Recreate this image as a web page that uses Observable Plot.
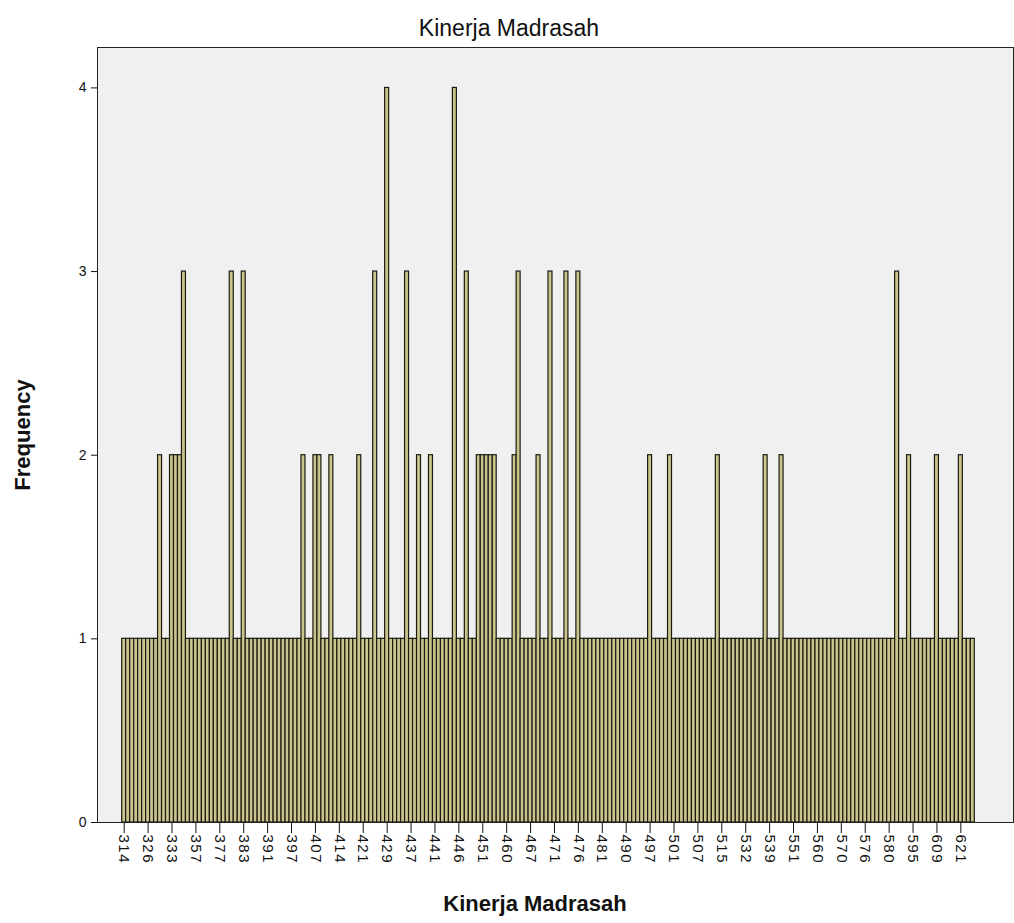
<!DOCTYPE html>
<html>
<head>
<meta charset="utf-8">
<script src="https://cdn.jsdelivr.net/npm/d3@7"></script>
<script src="https://cdn.jsdelivr.net/npm/@observablehq/plot@0.6"></script>
<style>
  html, body { margin: 0; padding: 0; background: #ffffff; }
  #chart svg { display: block; }
</style>
</head>
<body>
<div id="chart"></div>
<script>
const chartTitle = "Kinerja Madrasah";
const xLabel = "Kinerja Madrasah";
const yLabel = "Frequency";

// Tick labels shown under every 6th bar (bar index 0, 6, 12, ... 210)
const tickLabels = ["314","326","333","357","377","383","391","397","407","414","421","429",
  "437","441","446","451","460","467","471","476","481","490","497","501","507","515",
  "532","539","551","560","570","576","580","595","609","621"];
const tickStep = 6;

// Frequency of each distinct score, left to right (214 bars)
const freq = [
  1,1,1,1,1,1,1,1,1,2, 1,1,2,2,2,3,1,1,1,1,
  1,1,1,1,1,1,1,3,1,1, 3,1,1,1,1,1,1,1,1,1,
  1,1,1,1,1,2,1,1,2,2, 1,1,2,1,1,1,1,1,1,2,
  1,1,1,3,1,1,4,1,1,1, 1,3,1,1,2,1,1,2,1,1,
  1,1,1,4,1,1,3,1,1,2, 2,2,2,2,1,1,1,1,2,3,
  1,1,1,1,2,1,1,3,1,1, 1,3,1,1,3,1,1,1,1,1,
  1,1,1,1,1,1,1,1,1,1, 1,1,2,1,1,1,1,2,1,1,
  1,1,1,1,1,1,1,1,1,2, 1,1,1,1,1,1,1,1,1,1,
  1,2,1,1,1,2,1,1,1,1, 1,1,1,1,1,1,1,1,1,1,
  1,1,1,1,1,1,1,1,1,1, 1,1,1,1,3,1,1,2,1,1,
  1,1,1,1,2,1,1,1,1,1, 2,1,1,1
];
const yTicks = [0, 1, 2, 3, 4];

const bars = freq.map((f, i) => ({ i, f }));
const tickIdx = tickLabels.map((_, k) => k * tickStep);
const labelOf = new Map(tickIdx.map((v, k) => [v, tickLabels[k]]));

const W = 1014, H = 923;
const plot = Plot.plot({
  width: W,
  height: H,
  marginTop: 47,
  marginBottom: 101,
  marginLeft: 97,
  marginRight: 1,
  style: { fontFamily: "'Liberation Sans', Arial, sans-serif", background: "transparent", overflow: "visible", color: "#111" },
  x: { type: "band", domain: bars.map(d => d.i), paddingInner: 0, paddingOuter: 0, insetLeft: 24.7, insetRight: 38.7 },
  y: { domain: [0, 4.22] },
  marks: [
    Plot.frame({ fill: "#f0f0f0" }),
    Plot.barY(bars, { x: "i", y: "f", fill: "#cbc48c", stroke: "#1c1b12", strokeWidth: 1.2, inset: 0 }),
    Plot.axisX({ ticks: tickIdx, tickFormat: d => labelOf.get(d), tickRotate: 90, tickSize: 11, tickPadding: 1,
      fontSize: 15, label: null, stroke: "#111" }),
    Plot.axisY({ ticks: yTicks, tickFormat: d3.format("d"), tickSize: 6, tickPadding: 5, fontSize: 14, label: null, stroke: "#111" }),
    Plot.frame({ stroke: "#222", strokeWidth: 1 })
  ]
});
document.getElementById("chart").appendChild(plot);

const svg = d3.select(plot);
svg.selectAll("g[aria-label='x-axis tick label'] text").style("letter-spacing", "1.5px");
svg.append("text").attr("x", 509).attr("y", 36).attr("text-anchor", "middle")
  .attr("font-size", 23).attr("fill", "#111").text(chartTitle);
svg.append("text").attr("x", 535).attr("y", 911).attr("text-anchor", "middle")
  .attr("font-size", 22).attr("font-weight", "bold").attr("fill", "#111").text(xLabel);
svg.append("text").attr("transform", "translate(30,435) rotate(-90)").attr("text-anchor", "middle")
  .attr("font-size", 22).attr("font-weight", "bold").attr("fill", "#111").text(yLabel);
</script>
</body>
</html>
